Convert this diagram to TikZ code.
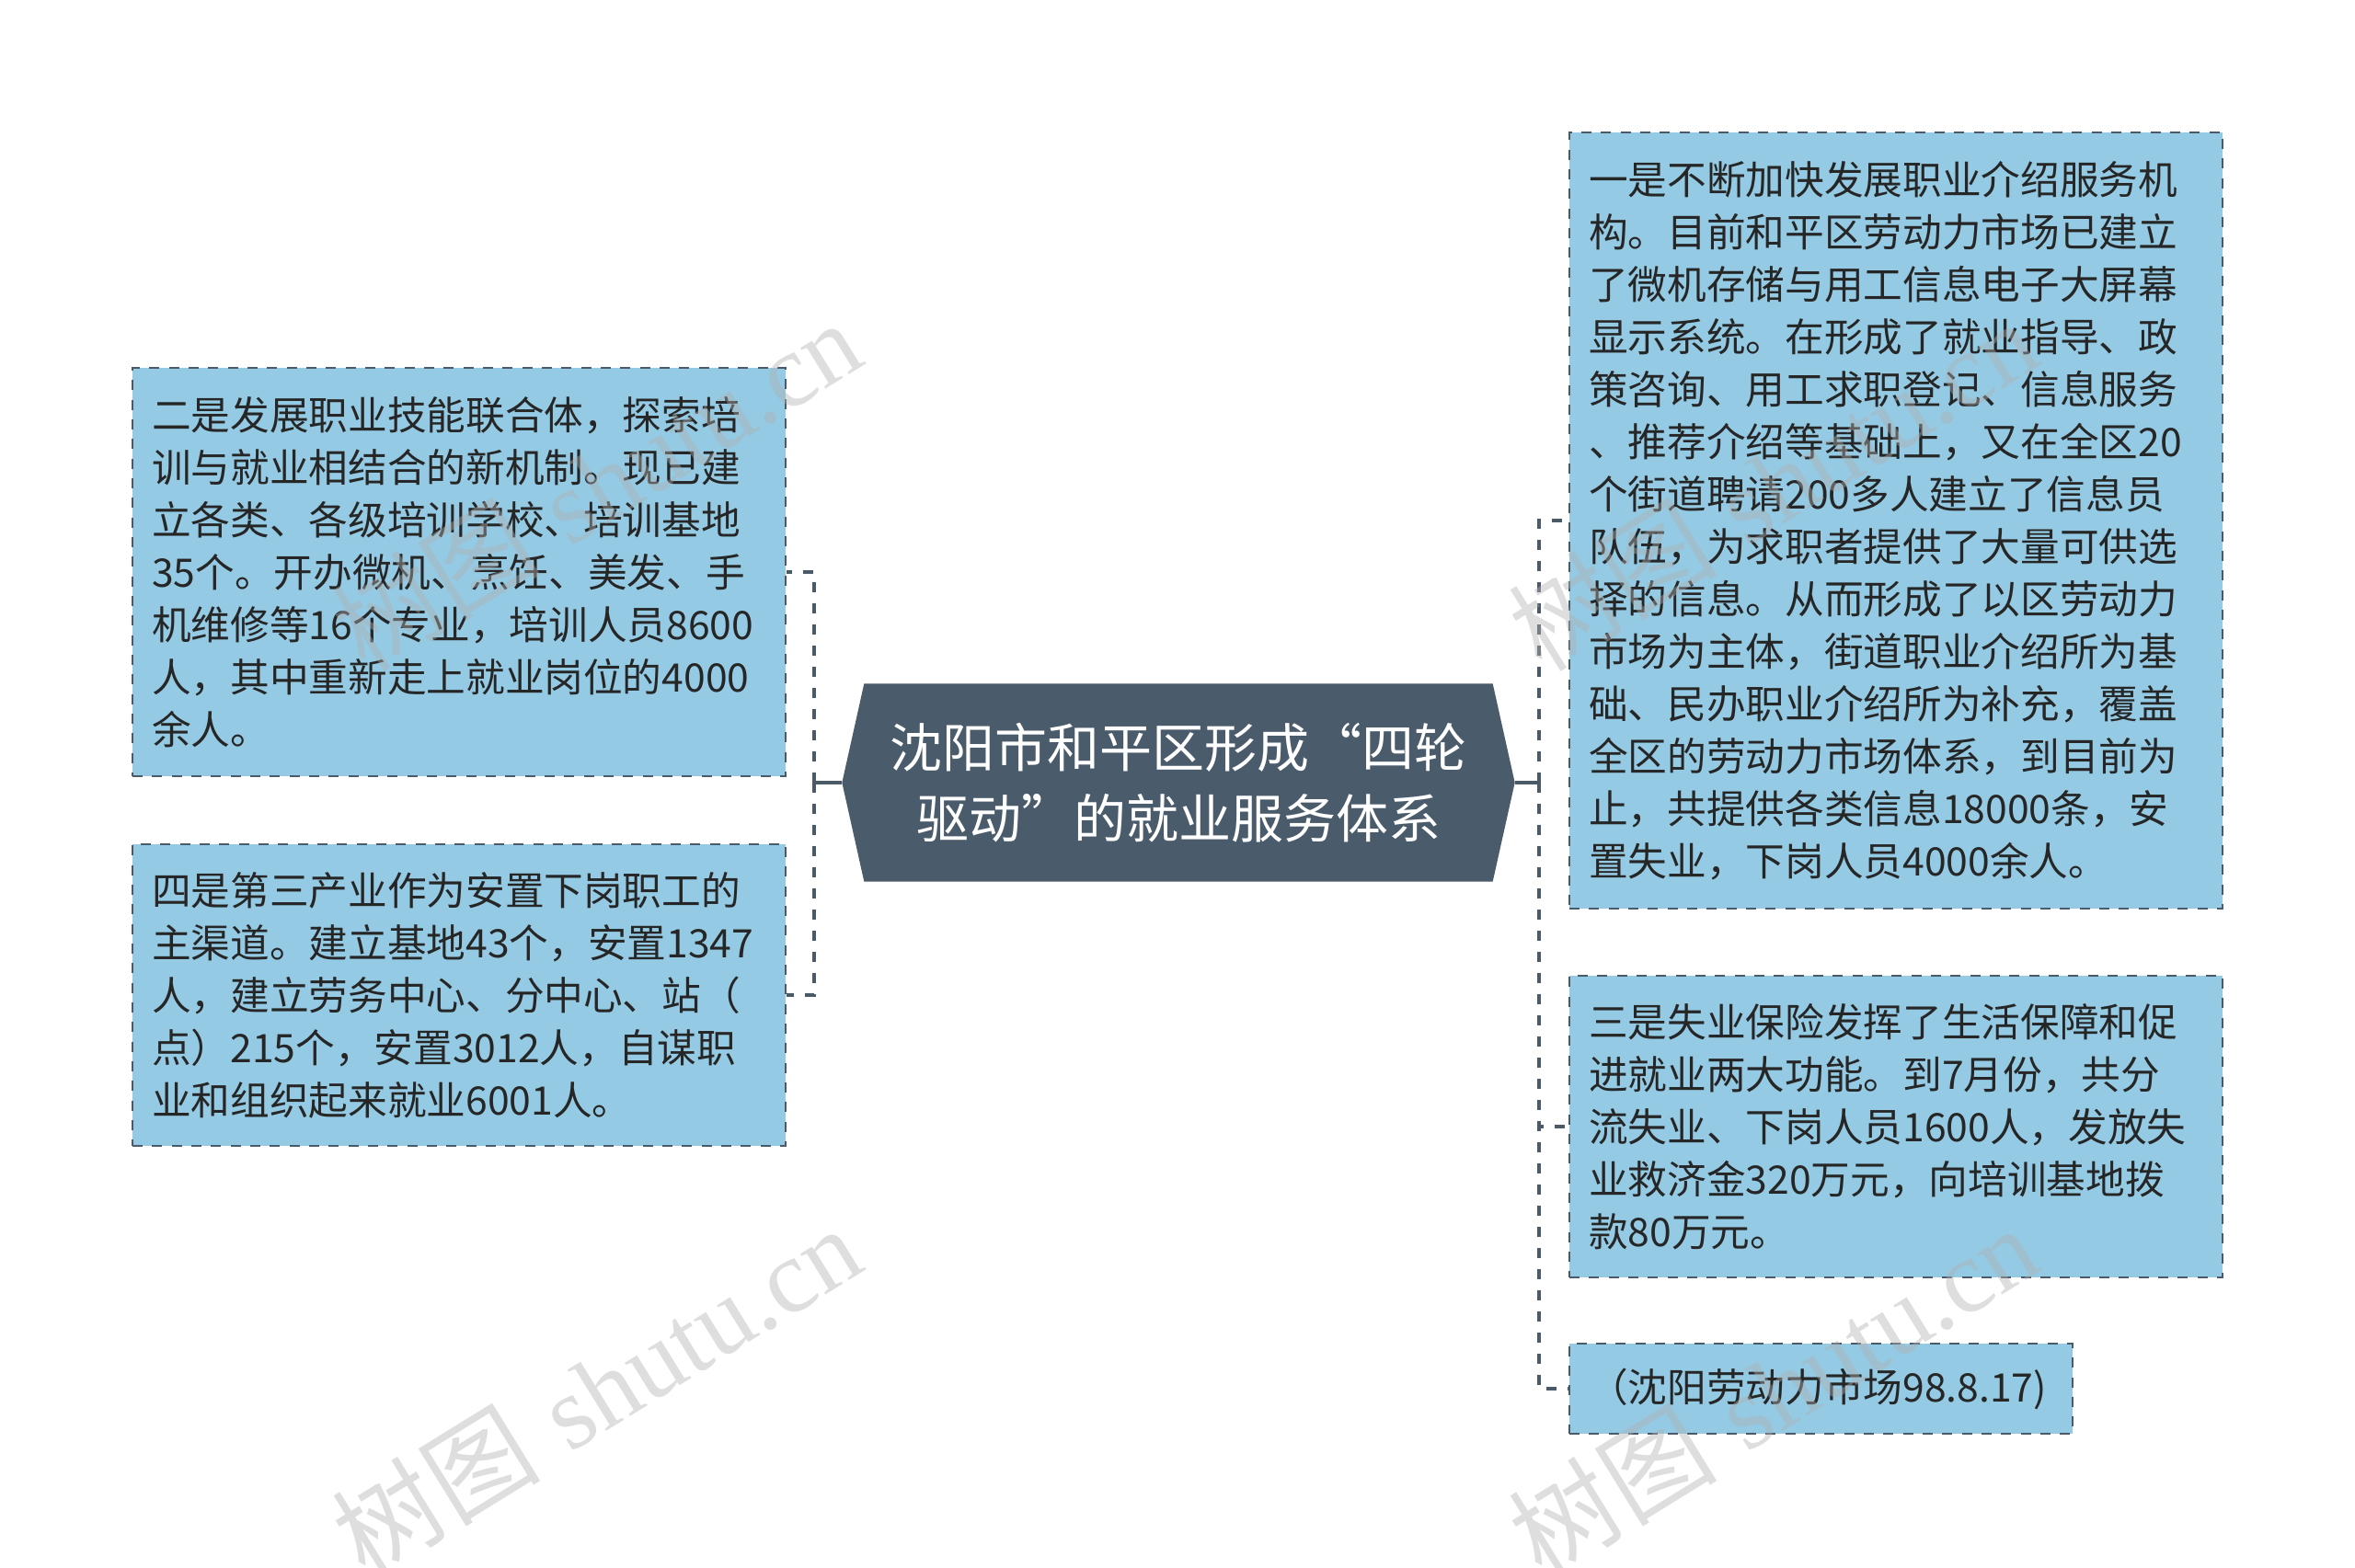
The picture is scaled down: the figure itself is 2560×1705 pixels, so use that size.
\documentclass[tikz,border=0pt]{standalone}
\usepackage{fontspec}
\newfontfamily\cjk{Noto Sans CJK SC}
\newfontfamily\wmser{Liberation Serif}
\usetikzlibrary{backgrounds}
\definecolor{boxfill}{HTML}{94CAE3}
\definecolor{boxline}{HTML}{4B5A69}
\definecolor{hexfill}{HTML}{4A5B6B}
\definecolor{txt}{HTML}{262626}
\tikzset{
  leaf/.style={rectangle, draw=boxline, line width=0.65pt, dash pattern=on 3.3pt off 3.1pt,
    fill=boxfill, align=left, inner xsep=6.3pt, inner ysep=0pt, text=txt,
    font=\cjk\fontsize{12.8pt}{17.1pt}\selectfont, text width=200.4pt, minimum width=213pt},
  conn/.style={draw=boxline, line width=1.3pt, dash pattern=on 3.3pt off 3.6pt},
  stub/.style={draw=boxline, line width=1.3pt},
  centre/.style={rectangle, inner sep=0pt, minimum width=219pt, minimum height=64.2pt,
    text=white, align=center, font=\cjk\fontsize{17.1pt}{23.1pt}\selectfont},
  wm/.style={text=gray!60, opacity=0.42, rotate=31.7, inner sep=0pt,
    font=\fontsize{34pt}{34pt}\selectfont}
}
\begin{document}
\begin{tikzpicture}[x=0.3pt,y=-0.3pt]
\useasboundingbox (0,0) rectangle (2560,1705);
\begin{scope}[on background layer]
  \fill[white] (0,0) rectangle (2560,1705);
\end{scope}

% centre
\node[centre] (c) at (1281,851) {沈阳市和平区形成“四轮\\驱动”的就业服务体系};
\begin{scope}[on background layer]
  \fill[hexfill] ([xshift=7.2pt]c.north west) -- ([xshift=-7.2pt]c.north east) -- (c.east)
    -- ([xshift=-7.2pt]c.south east) -- ([xshift=7.2pt]c.south west) -- (c.west) -- cycle;
\end{scope}

% left boxes
\node[leaf, minimum height=133.2pt] (l1) at (499,622) {二是发展职业技能联合体，探索培\\训与就业相结合的新机制。现已建\\立各类、各级培训学校、培训基地\\35个。开办微机、烹饪、美发、手\\机维修等16个专业，培训人员8600\\人，其中重新走上就业岗位的4000\\余人。};
\node[leaf, minimum height=98.4pt] (l2) at (499,1082) {四是第三产业作为安置下岗职工的\\主渠道。建立基地43个，安置1347\\人，建立劳务中心、分中心、站（\\点）215个，安置3012人，自谋职\\业和组织起来就业6001人。};

% right boxes
\node[leaf, minimum height=253.2pt] (r1) at (2061,566) {一是不断加快发展职业介绍服务机\\构。目前和平区劳动力市场已建立\\了微机存储与用工信息电子大屏幕\\显示系统。在形成了就业指导、政\\策咨询、用工求职登记、信息服务\\、推荐介绍等基础上，又在全区20\\个街道聘请200多人建立了信息员\\队伍，为求职者提供了大量可供选\\择的信息。从而形成了以区劳动力\\市场为主体，街道职业介绍所为基\\础、民办职业介绍所为补充，覆盖\\全区的劳动力市场体系，到目前为\\止，共提供各类信息18000条，安\\置失业，下岗人员4000余人。};
\node[leaf, minimum height=98.4pt] (r2) at (2061,1225) {三是失业保险发挥了生活保障和促\\进就业两大功能。到7月份，共分\\流失业、下岗人员1600人，发放失\\业救济金320万元，向培训基地拨\\款80万元。};
\node[leaf, minimum height=29.4pt, minimum width=164.1pt, text width=151.5pt] (r3) at (1979.5,1510) {（沈阳劳动力市场98.8.17)};

% connectors
\coordinate (lj) at (885,851);
\coordinate (rj) at (1673,851);
\draw[stub] (c.west) -- (lj);
\draw[stub] (c.east) -- (rj);
\draw[conn] (lj) |- (l1.east);
\draw[conn] (lj) |- (l2.east);
\draw[conn] (rj) |- (r1.west);
\draw[conn] (rj) |- (r2.west);
\draw[conn] (rj) |- (r3.west);

% watermarks
\node[wm] (w1) at (648,527) {{\cjk 树图} {\wmser shutu.cn}};
\node[wm] (w2) at (648,1512) {{\cjk 树图} {\wmser shutu.cn}};
\node[wm] (w3) at (1927,527) {{\cjk 树图} {\wmser shutu.cn}};
\node[wm] (w4) at (1927,1512) {{\cjk 树图} {\wmser shutu.cn}};
\end{tikzpicture}
\end{document}
